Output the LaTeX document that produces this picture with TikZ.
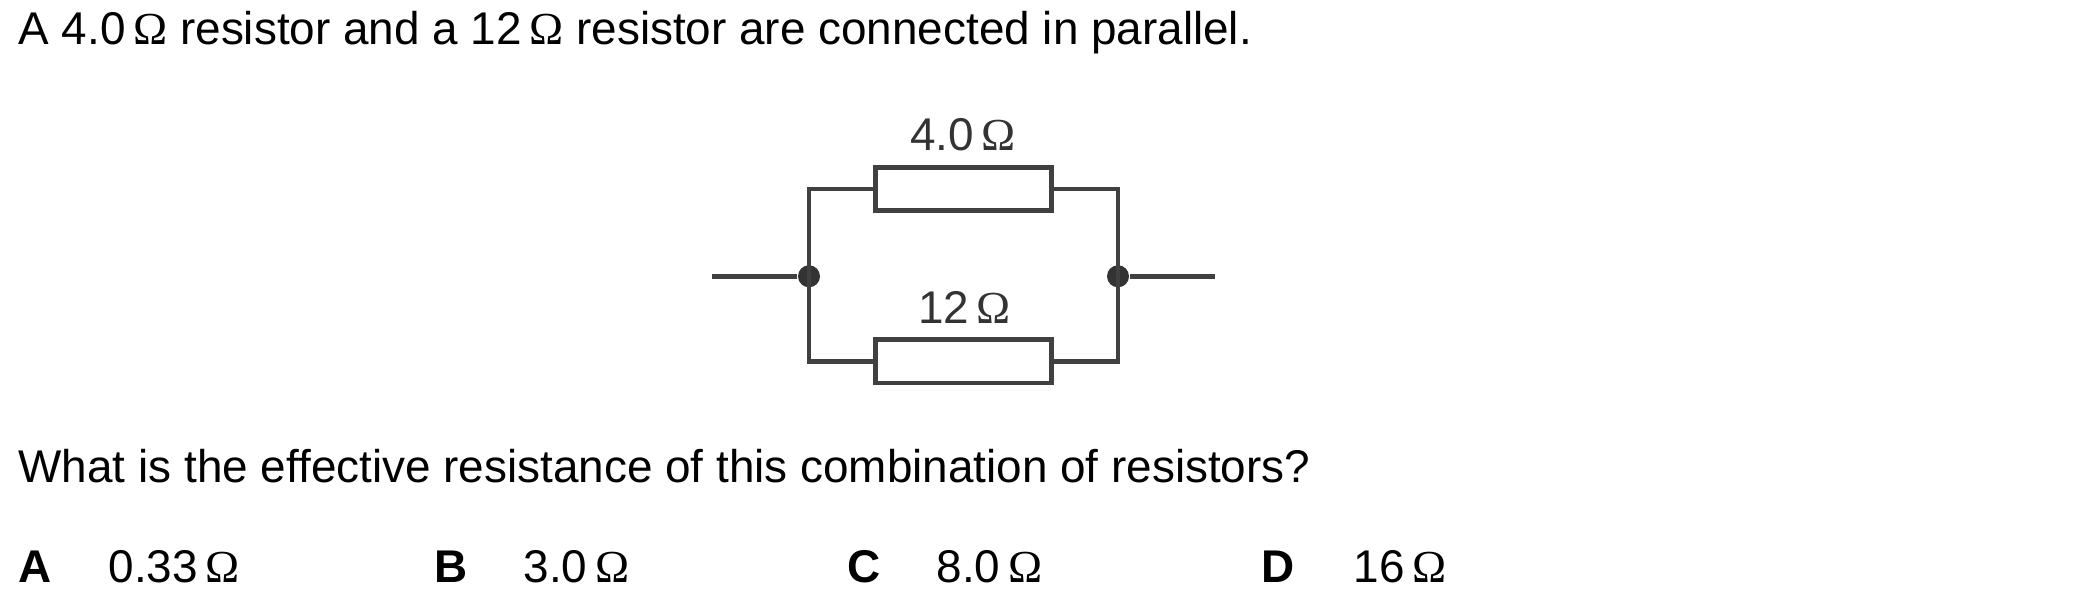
\documentclass[tikz,border=0pt]{standalone}
\usepackage{fontspec}
\setmainfont{Liberation Sans}
\newfontfamily\ohmfont{Liberation Serif}
\newcommand{\ohmsign}{\,{\ohmfont Ω}}
\tikzset{
  wire/.style={line width=0.45mm, draw=black!75},
  resbox/.style={draw=black!75, line width=0.45mm, fill=white, rectangle, minimum width=17.6mm, minimum height=4.34mm, inner sep=0pt},
  joint/.style={circle, fill=black!80, minimum size=2.2mm, inner sep=0pt},
  txt/.style={anchor=base west, inner sep=0pt, font=\fontsize{13.05pt}{15pt}\selectfont},
  lab/.style={anchor=base, inner sep=0pt, text=black!80, font=\fontsize{13.05pt}{15pt}\selectfont}
}
\begin{document}
\begin{tikzpicture}
  \useasboundingbox (0,0) rectangle (21,-6.04);
  % Question text
  \node[txt] (intro) at (0.18,-0.443) {A 4.0\ohmsign{} resistor and a 12\ohmsign{} resistor are connected in parallel.};
  \node[txt] (question) at (0.18,-4.83) {What is the effective resistance of this combination of resistors?};

  % Wiring junctions and free ends
  \node[joint] (jleft) at (8.09,-2.763) {};
  \node[joint] (jright) at (11.18,-2.763) {};
  \coordinate (inlead) at (7.12,-2.763);
  \coordinate (outlead) at (12.15,-2.763);

  % Resistors
  \node[resbox] (rtop) at (9.635,-1.89) {};
  \node[resbox] (rbot) at (9.635,-3.613) {};

  % Wiring
  \draw[wire] (inlead) -- (jleft); % Input lead
  \draw[wire] (jright) -- (outlead); % Output lead
  \draw[wire] (rtop.west) -| (jleft.center) |- (rbot.west); % Left side
  \draw[wire] (rtop.east) -| (jright.center) |- (rbot.east); % Right side

  % Resistor labels
  \node[lab] (ltop) at (9.63,-1.507) {4.0\ohmsign};
  \node[lab] (lbot) at (9.645,-3.233) {12\ohmsign};

  % Answer options
  \foreach \nm/\xa/\xb/\val in {A/0.18/1.08/0.33,B/4.34/5.23/3.0,C/8.47/9.36/8.0,D/12.61/13.53/16} {
    \node[txt, font=\fontsize{13.05pt}{15pt}\selectfont\bfseries] (key\nm) at (\xa,-5.83) {\nm};
    \node[txt] (val\nm) at (\xb,-5.83) {\val\ohmsign};
  }
\end{tikzpicture}
\end{document}
